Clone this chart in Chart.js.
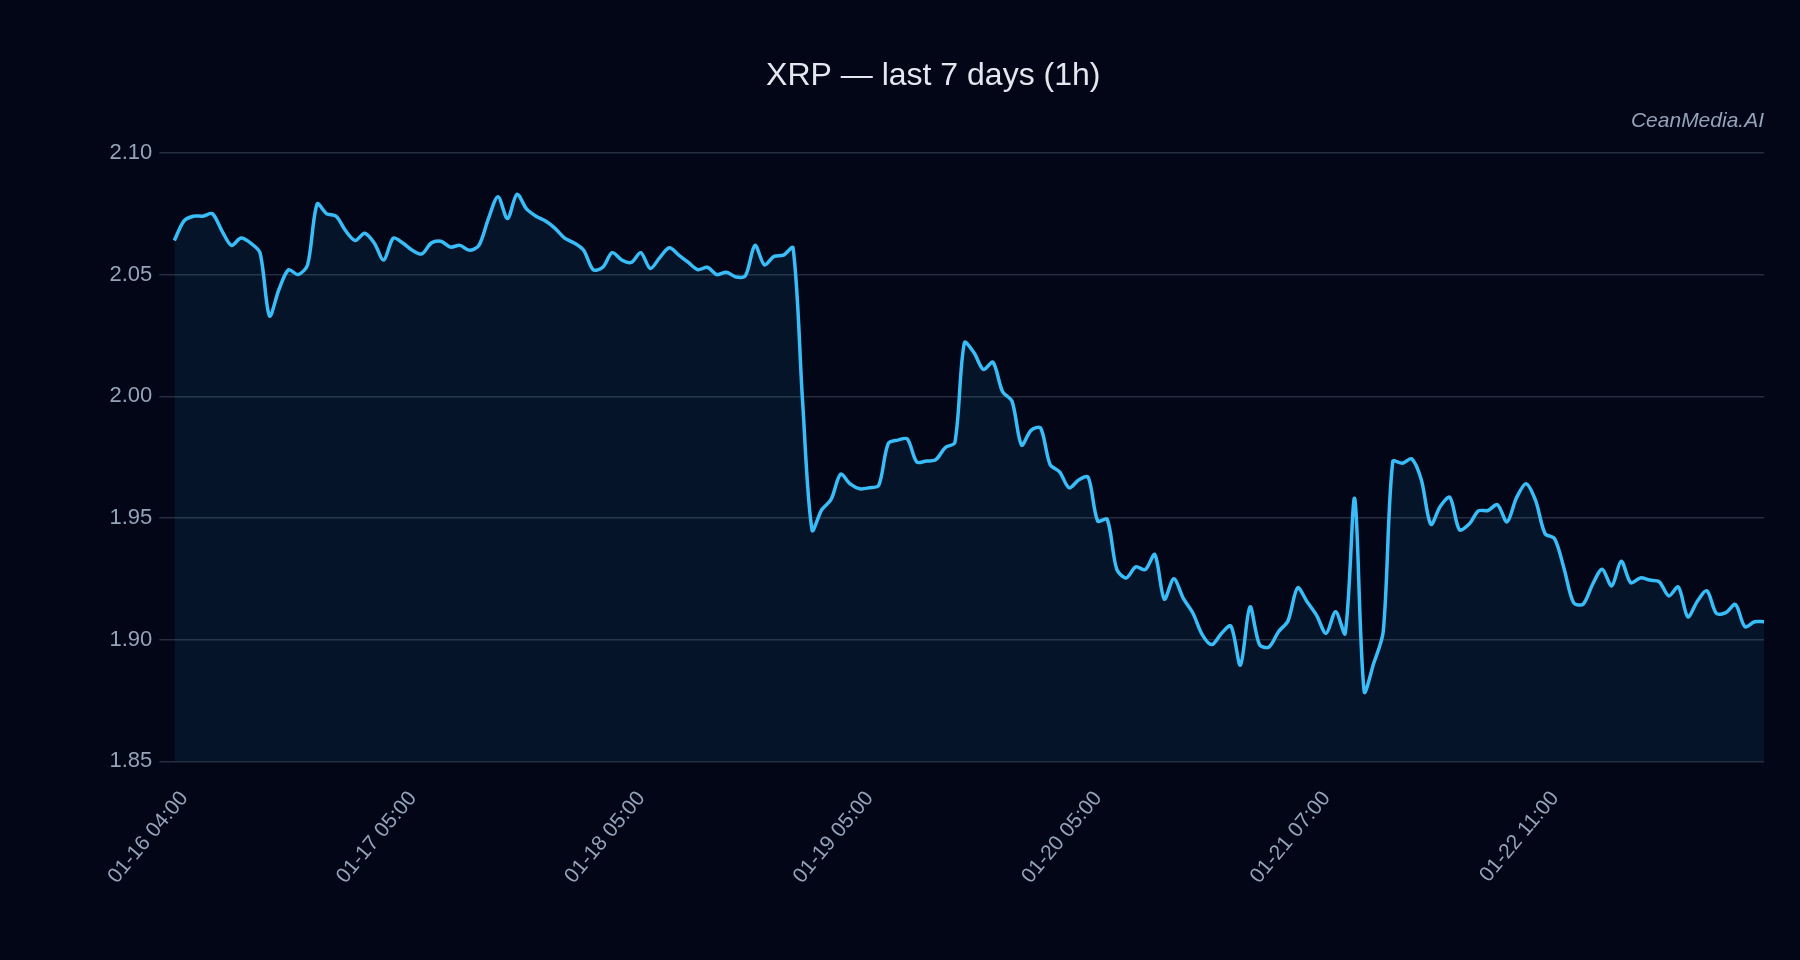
<!DOCTYPE html>
<html>
<head>
<meta charset="utf-8">
<script src="https://cdn.jsdelivr.net/npm/chart.js@4.4.1/dist/chart.umd.min.js"></script>
<style>
  html, body { margin: 0; padding: 0; background: #020617; }
  #wrap { width: 1800px; height: 960px; position: relative; }
</style>
</head>
<body>
<div id="wrap"><canvas id="c"></canvas></div>
<script>
// Tick labels shown on the x axis (every 24th hourly point)
const tickLabels = ['01-16 04:00', '01-17 05:00', '01-18 05:00', '01-19 05:00', '01-20 05:00', '01-21 07:00', '01-22 11:00'];

// XRP hourly close prices
const prices = [
  2.064, 2.072, 2.074, 2.074, 2.075, 2.068, 2.062, 2.065, 2.063, 2.059,
  2.033, 2.044, 2.052, 2.050, 2.054, 2.079, 2.075, 2.074, 2.068, 2.064,
  2.067, 2.063, 2.056, 2.065, 2.063, 2.060, 2.0585, 2.063, 2.0637, 2.0613,
  2.062, 2.060, 2.062, 2.073, 2.082, 2.073, 2.083, 2.077, 2.074, 2.072,
  2.069, 2.065, 2.063, 2.060, 2.052, 2.053, 2.059, 2.056, 2.055, 2.059,
  2.0525, 2.057, 2.061, 2.058, 2.055, 2.052, 2.053, 2.050, 2.051, 2.049,
  2.0496, 2.062, 2.054, 2.0575, 2.058, 2.061, 1.998, 1.945, 1.9533, 1.9577,
  1.968, 1.964, 1.962, 1.9624, 1.9634, 1.9806, 1.982, 1.9825, 1.973, 1.9734,
  1.974, 1.979, 1.981, 2.022, 2.018, 2.011, 2.014, 2.002, 1.998, 1.980,
  1.986, 1.987, 1.972, 1.969, 1.9624, 1.9656, 1.9668, 1.9488, 1.9495, 1.929,
  1.9254, 1.9299, 1.9288, 1.935, 1.9167, 1.925, 1.917, 1.911, 1.902, 1.898,
  1.9026, 1.9056, 1.8896, 1.9135, 1.898, 1.897, 1.9033, 1.9078, 1.9213, 1.9156,
  1.910, 1.9026, 1.9115, 1.9026, 1.958, 1.8787, 1.8903, 1.9033, 1.9732, 1.9725,
  1.9743, 1.9657, 1.9474, 1.9548, 1.9585, 1.9452, 1.9474, 1.9529, 1.9531, 1.9555,
  1.9484, 1.9583, 1.9641, 1.9572, 1.9436, 1.9415, 1.9292, 1.9152, 1.9146, 1.9228,
  1.929, 1.9221, 1.9322, 1.9234, 1.9254, 1.9245, 1.9238, 1.918, 1.9217, 1.9094,
  1.9158, 1.9201, 1.9108, 1.9111, 1.9145, 1.9053, 1.9074, 1.9074
];

// Y axis range / step
const yMin = 1.85;
const yMax = 2.10;
const yStep = 0.05;

// Hourly category labels, counted forward from each shown tick label
function pad(n) { return String(n).padStart(2, '0'); }
const categories = prices.map((_, i) => {
  const a = tickLabels[Math.floor(i / 24)];
  const mm = +a.slice(0, 2), dd = +a.slice(3, 5), hh = +a.slice(6, 8);
  const d = new Date(Date.UTC(2026, mm - 1, dd, hh + (i % 24)));
  return pad(d.getUTCMonth() + 1) + '-' + pad(d.getUTCDate()) + ' ' + pad(d.getUTCHours()) + ':00';
});

const FONT = '"Liberation Sans", Arial, sans-serif';

new Chart(document.getElementById('c'), {
  type: 'line',
  data: {
    labels: categories,
    datasets: [{
      label: 'XRP',
      data: prices,
      borderColor: '#38bdf8',
      borderWidth: 3.5,
      backgroundColor: 'rgba(56,189,248,0.08)',
      fill: 'start',
      pointRadius: 0,
      tension: 0.3
    }]
  },
  options: {
    responsive: true,
    maintainAspectRatio: false,
    animation: false,
    layout: { padding: { top: 30, left: 102.5, right: 36, bottom: 54.5 } },
    plugins: {
      legend: { display: false },
      tooltip: { enabled: false },
      title: {
        display: true,
        text: 'XRP — last 7 days (1h)',
        color: '#e2e8f0',
        font: { family: FONT, size: 32, weight: 'normal' },
        padding: { top: 27, bottom: 8 }
      },
      subtitle: {
        display: true,
        text: 'CeanMedia.AI',
        align: 'end',
        color: '#94a3b8',
        font: { family: FONT, size: 21, style: 'italic', weight: 'normal' },
        padding: { top: 5.6, bottom: 18.7 }
      }
    },
    scales: {
      x: {
        grid: { display: false },
        border: { display: false },
        ticks: {
          color: '#94a3b8',
          font: { family: FONT, size: 21 },
          autoSkip: true,
          maxTicksLimit: tickLabels.length,
          minRotation: 50,
          maxRotation: 50,
          padding: 17,
          labelOffset: 10
        }
      },
      y: {
        min: yMin,
        max: yMax,
        border: { display: false },
        grid: { color: 'rgba(148,163,184,0.25)', lineWidth: 1.5, tickLength: 15 },
        ticks: {
          stepSize: yStep,
          color: '#94a3b8',
          font: { family: FONT, size: 22 },
          padding: 7,
          callback: v => v.toFixed(2)
        }
      }
    }
  }
});
</script>
</body>
</html>
